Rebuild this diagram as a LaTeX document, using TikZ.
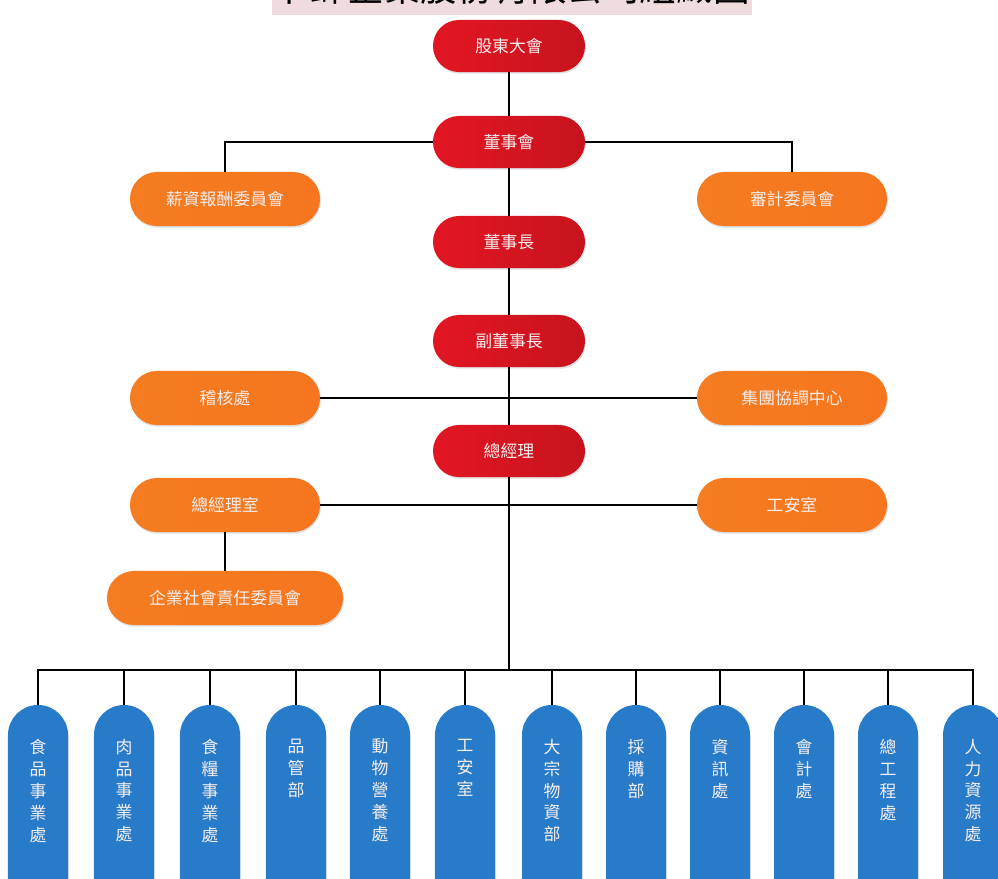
\documentclass[tikz,border=0pt]{standalone}
\usepackage{fontspec}
\newfontfamily\cjk{Noto Sans CJK TC}
\usetikzlibrary{positioning,shadows}
\definecolor{bossred}{RGB}{226,22,34}
\definecolor{unitorange}{RGB}{245,124,32}
\definecolor{deptblue}{RGB}{40,123,201}
\definecolor{titlepink}{RGB}{240,220,220}
\definecolor{labelwhite}{RGB}{246,238,238}

\begin{document}
\begin{tikzpicture}[x=0.025cm,y=-0.025cm,
		link/.style={line width=1.5pt,black},
		boss/.style={rectangle,rounded corners=0.65cm,minimum width=3.8cm,minimum height=1.3cm,
			left color=bossred,right color=bossred!88!black,text=labelwhite,
			font=\cjk\fontsize{12}{14}\selectfont,
			drop shadow={opacity=0.25,shadow xshift=0.6pt,shadow yshift=-1.2pt}},
		unit/.style={rectangle,rounded corners=0.675cm,minimum width=4.75cm,minimum height=1.35cm,
			left color=unitorange,right color=unitorange!95!red,text=labelwhite,
			font=\cjk\fontsize{12}{14}\selectfont,
			drop shadow={opacity=0.25,shadow xshift=0.6pt,shadow yshift=-1.2pt}},
		dept/.style={rectangle,rounded corners=0.75cm,minimum width=1.5cm,minimum height=5.5cm,
			fill=deptblue,drop shadow={opacity=0.2,shadow xshift=0.6pt,shadow yshift=-1pt}},
		depttext/.style={inner sep=0pt,align=center,text=labelwhite,
			font=\cjk\fontsize{12}{15.6}\selectfont}]
				\useasboundingbox (0,0) rectangle (998,879);
				\clip (0,0) rectangle (998,879);
				\fill[white] (0,0) rectangle (998,879);
				\fill[titlepink] (272,0) rectangle (752,15);
				\node[anchor=base,inner sep=0pt,font=\cjk\fontsize{26}{30}\selectfont] (title) at (512,2) {卜蜂企業股份有限公司組織圖};
				\node[boss] (agm) at (509,46) {股東大會};
				\node[boss] (board) at (509,142) {董事會};
				\node[boss] (chair) at (509,242) {董事長};
				\node[boss] (vice) at (509,341) {副董事長};
				\node[boss] (gm) at (509,451) {總經理};
				\node[unit] (pay) at (225,199) {薪資報酬委員會};
				\node[unit] (audit) at (792,199) {審計委員會};
				\node[unit] (check) at (225,398) {稽核處};
				\node[unit] (group) at (792,398) {集團協調中心};
				\node[unit] (gmo) at (225,505) {總經理室};
				\node[unit] (safety) at (792,505) {工安室};
				\node[unit,minimum width=5.9cm] (csr) at (225,598) {企業社會責任委員會};
				\coordinate (bus) at (509,670);
				\node[dept] (d1) at (38,815) {};
				\node[dept] (d2) at (124,815) {};
				\node[dept] (d3) at (210,815) {};
				\node[dept] (d4) at (296,815) {};
				\node[dept] (d5) at (380,815) {};
				\node[dept] (d6) at (465,815) {};
				\node[dept] (d7) at (552,815) {};
				\node[dept] (d8) at (636,815) {};
				\node[dept] (d9) at (720,815) {};
				\node[dept] (d10) at (804,815) {};
				\node[dept] (d11) at (888,815) {};
				\node[dept] (d12) at (973,815) {};
				\node[depttext,below=0.85cm of d1.north] (t1) {食\\品\\事\\業\\處};
				\node[depttext,below=0.85cm of d2.north] (t2) {肉\\品\\事\\業\\處};
				\node[depttext,below=0.85cm of d3.north] (t3) {食\\糧\\事\\業\\處};
				\node[depttext,below=0.85cm of d4.north] (t4) {品\\管\\部};
				\node[depttext,below=0.85cm of d5.north] (t5) {動\\物\\營\\養\\處};
				\node[depttext,below=0.85cm of d6.north] (t6) {工\\安\\室};
				\node[depttext,below=0.85cm of d7.north] (t7) {大\\宗\\物\\資\\部};
				\node[depttext,below=0.85cm of d8.north] (t8) {採\\購\\部};
				\node[depttext,below=0.85cm of d9.north] (t9) {資\\訊\\處};
				\node[depttext,below=0.85cm of d10.north] (t10) {會\\計\\處};
				\node[depttext,below=0.85cm of d11.north] (t11) {總\\工\\程\\處};
				\node[depttext,below=0.85cm of d12.north] (t12) {人\\力\\資\\源\\處};
				\draw[link] (agm) to (board);
				\draw[link] (board) to (chair);
				\draw[link] (chair) to (vice);
				\draw[link] (vice) to (gm);
				\draw[link] (board.west) -| (pay.north);
				\draw[link] (board.east) -| (audit.north);
				\draw[link] (check.east) to (group.west);
				\draw[link] (gmo.east) to (safety.west);
				\draw[link] (gmo) to (csr);
				\draw[link] (gm.south) to (bus);
				\draw[link] (d1.north) |- (bus) -| (d12.north);
				\draw[link] (d2.north) to (d2.north |- bus);
				\draw[link] (d3.north) to (d3.north |- bus);
				\draw[link] (d4.north) to (d4.north |- bus);
				\draw[link] (d5.north) to (d5.north |- bus);
				\draw[link] (d6.north) to (d6.north |- bus);
				\draw[link] (d7.north) to (d7.north |- bus);
				\draw[link] (d8.north) to (d8.north |- bus);
				\draw[link] (d9.north) to (d9.north |- bus);
				\draw[link] (d10.north) to (d10.north |- bus);
				\draw[link] (d11.north) to (d11.north |- bus);
	\end{tikzpicture}
\end{document}
